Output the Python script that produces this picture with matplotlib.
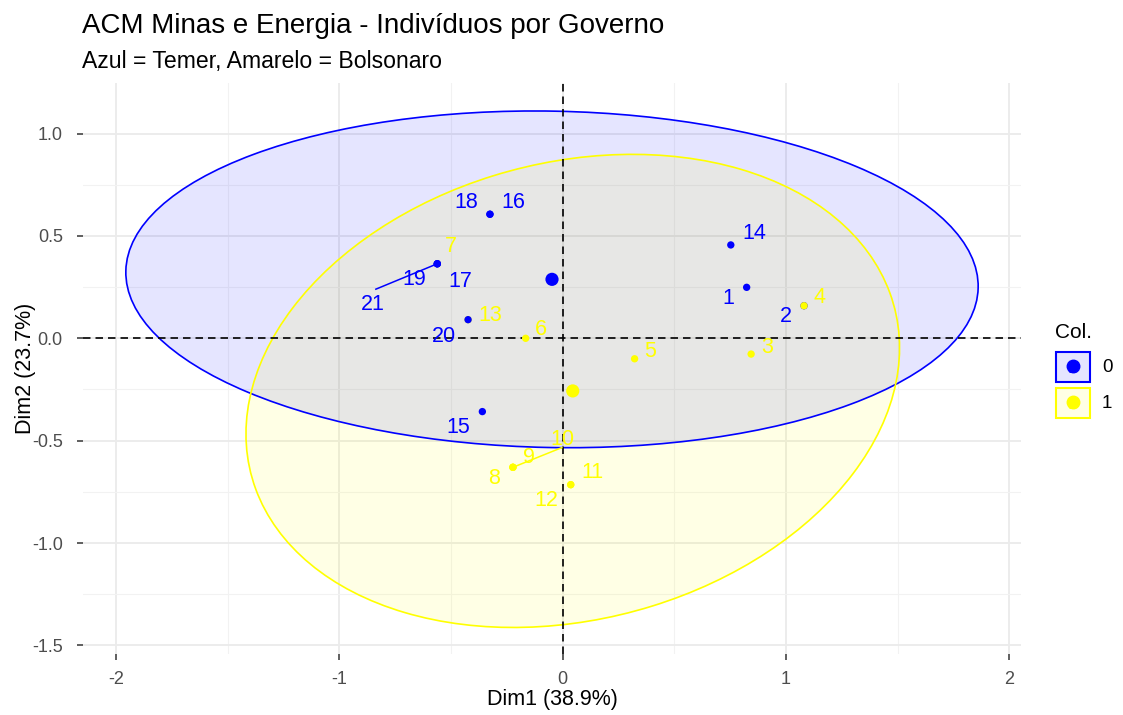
import matplotlib
matplotlib.use("Agg")
import matplotlib.pyplot as plt
from matplotlib.patches import Ellipse, Rectangle
from matplotlib.lines import Line2D
import numpy as np

plt.rcParams['font.family'] = ['Liberation Sans', 'DejaVu Sans']
plt.rcParams['axes.unicode_minus'] = False

# ---------------- data ----------------
ind_labels = [str(i) for i in range(1, 22)]
ind_group = [0, 0, 1, 1, 1, 1, 1, 1, 1, 1, 1, 1, 1, 0, 0, 0, 0, 0, 0, 0, 0]
dim1 = [0.824, 1.081, 0.844, 1.081, 0.322, -0.166, -0.562, -0.223, -0.223, -0.223,
        0.036, 0.036, -0.424, 0.753, -0.360, -0.326, -0.562, -0.326, -0.562, -0.424, -0.562]
dim2 = [0.249, 0.159, -0.077, 0.159, -0.100, 0.000, 0.364, -0.630, -0.630, -0.630,
        -0.715, -0.715, 0.091, 0.456, -0.358, 0.606, 0.364, 0.606, 0.364, 0.091, 0.364]
# repelled label positions
lab_x = [0.742, 1.000, 0.914, 1.150, 0.391, -0.097, -0.502, -0.306, -0.151, -0.002,
         0.133, -0.072, -0.323, 0.859, -0.468, -0.221, -0.457, -0.430, -0.665, -0.532, -0.849]
lab_y = [0.195, 0.106, -0.044, 0.200, -0.065, 0.044, 0.447, -0.687, -0.581, -0.493,
         -0.657, -0.793, 0.110, 0.513, -0.435, 0.662, 0.277, 0.662, 0.285, 0.008, 0.166]
# label -> segment end (ggrepel connectors)
segments = {"21": (-0.837, 0.240), "10": (-0.004, -0.534)}

groups = ["0", "1"]
group_colors = ["blue", "yellow"]
group_mean_x = [-0.048, 0.045]
group_mean_y = [0.288, -0.257]
ell_width = [3.819, 2.998]
ell_height = [1.643, 2.219]
ell_angle = [-1.25, 18.65]

title = "ACM Minas e Energia - Indivíduos por Governo"
subtitle = "Azul = Temer, Amarelo = Bolsonaro"
xlabel = "Dim1 (38.9%)"
ylabel = "Dim2 (23.7%)"

# ---------------- figure ----------------
W, H = 1123, 715
fig = plt.figure(figsize=(W / 100, H / 100), dpi=100)
pl, pr, pt, pb = 83, 1021, 83, 654
ax = fig.add_axes([pl / W, 1 - pb / H, (pr - pl) / W, (pb - pt) / H])
ax.set_xlim(-2.149, 2.053)
ax.set_ylim(-1.542, 1.247)

for s in ax.spines.values():
    s.set_visible(False)
ax.set_xticks([-2, -1, 0, 1, 2])
ax.set_xticklabels(["-2", "-1", "0", "1", "2"])
ax.set_yticks([-1.5, -1.0, -0.5, 0.0, 0.5, 1.0])
ax.set_yticklabels(["-1.5", "-1.0", "-0.5", "0.0", "0.5", "1.0"])
ax.set_xticks([-1.5, -0.5, 0.5, 1.5], minor=True)
ax.set_yticks([-1.25, -0.75, -0.25, 0.25, 0.75], minor=True)
ax.grid(which='major', color='#EBEBEB', linewidth=1.3, zorder=0)
ax.grid(which='minor', color='#F2F2F2', linewidth=0.8, zorder=0)
ax.tick_params(which='major', length=4.5, width=1.1, color='#333333',
               labelsize=13, labelcolor='#4D4D4D')
ax.tick_params(axis='x', which='major', pad=8)
ax.tick_params(axis='y', which='major', pad=10)
ax.tick_params(which='minor', length=0)
ax.set_axisbelow(True)

# ellipses
for g in range(2):
    e = Ellipse((group_mean_x[g], group_mean_y[g]), ell_width[g], ell_height[g],
                angle=ell_angle[g], facecolor=group_colors[g], alpha=0.1,
                edgecolor='none', zorder=1)
    ax.add_patch(e)
    e2 = Ellipse((group_mean_x[g], group_mean_y[g]), ell_width[g], ell_height[g],
                 angle=ell_angle[g], facecolor='none', edgecolor=group_colors[g],
                 linewidth=1.2, zorder=2)
    ax.add_patch(e2)

ax.axhline(0, color='black', linestyle=(0, (4.5, 3)), linewidth=1.2, zorder=3)
ax.axvline(0, color='black', linestyle=(0, (4.5, 3)), linewidth=1.2, zorder=3)

# points, drawn in row order (later rows on top)
for i in range(len(ind_labels)):
    ax.scatter([dim1[i]], [dim2[i]], s=28, color=group_colors[ind_group[i]],
               zorder=4 + i * 0.01, edgecolors='none')

for i, lab in enumerate(ind_labels):
    c = group_colors[ind_group[i]]
    if lab in segments:
        sx, sy = segments[lab]
        ax.plot([dim1[i], sx], [dim2[i], sy], color=c, linewidth=1.1, zorder=6)
    ax.text(lab_x[i], lab_y[i], lab, color=c, fontsize=15.5, ha='center',
            va='center', zorder=7)

for g in range(2):
    ax.scatter([group_mean_x[g]], [group_mean_y[g]], s=90, color=group_colors[g],
               zorder=8, edgecolors='none')

def fx(x):
    return x / W

def fy(y):
    return 1 - y / H

fig.text(fx(552), fy(700), xlabel, fontsize=15.5, ha='center', va='center')
fig.text(fx(25), fy(368), ylabel, fontsize=15.5, ha='center', va='center',
         rotation=90)

fig.text(fx(82), fy(33), title, fontsize=20, ha='left', va='baseline')
fig.text(fx(82), fy(68), subtitle, fontsize=16.6, ha='left', va='baseline')

# ---------------- legend ----------------
fig.text(fx(1055), fy(332), "Col.", fontsize=15, ha='left', va='center')
key_tops = [352, 388]
for g in range(2):
    t = key_tops[g]
    fig.add_artist(Rectangle((fx(1056), fy(t + 30)), 34 / W, 30 / H,
                             transform=fig.transFigure, facecolor=group_colors[g],
                             alpha=0.1, edgecolor='none'))
    fig.add_artist(Rectangle((fx(1056), fy(t + 30)), 34 / W, 30 / H,
                             transform=fig.transFigure, facecolor='none',
                             edgecolor=group_colors[g], linewidth=1.5))
    fig.text(fx(1072), fy(t + 17), "a", color=group_colors[g], fontsize=11,
             ha='center', va='center')
    fig.add_artist(Line2D([fx(1073)], [fy(t + 14)], marker='o', markersize=9,
                          color=group_colors[g], linestyle='none',
                          transform=fig.transFigure))
    fig.text(fx(1102), fy(t + 15), groups[g], fontsize=13.5, ha='left', va='center')

fig.savefig("out.png", dpi=100)
